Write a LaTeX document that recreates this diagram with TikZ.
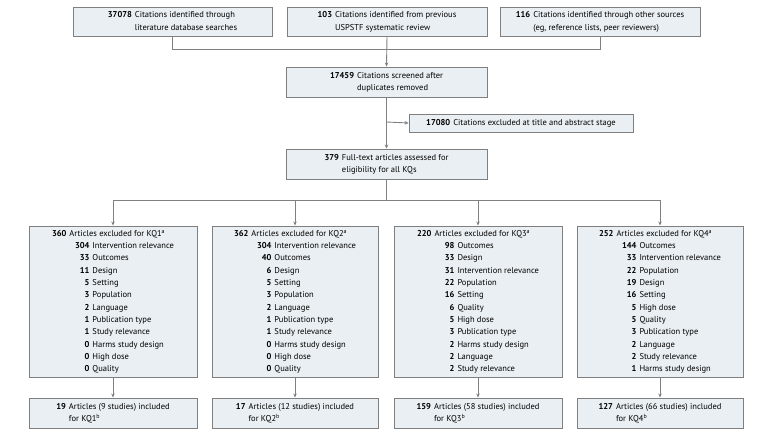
\documentclass[tikz,border=0pt]{standalone}
\usepackage{fontspec}
\setmainfont{PT Sans}
\usetikzlibrary{arrows.meta}
\definecolor{boxfill}{HTML}{E9EFF3}
\definecolor{boxline}{HTML}{7F7F7F}
\definecolor{arrline}{HTML}{808080}
\newcommand{\sub}[2]{& \makebox[20pt][r]{\textbf{#1}}\hspace{3pt}#2\\}
\begin{document}
\begin{tikzpicture}[x=1pt,y=-1pt,
  box/.style={draw=boxline, fill=boxfill, line width=0.9pt, inner sep=0pt, align=left,
    font=\fontsize{8.5}{12.3}\selectfont},
  conn/.style={draw=arrline, line width=0.9pt},
  arr/.style={conn, -{Stealth[length=4pt,width=3.5pt]}}]
\useasboundingbox (0,0) rectangle (758,437);
\node[box, minimum width=199pt, minimum height=29pt] (s1) at (172.5,21.5)
  {\begin{tabular}{@{}r@{\hspace{3pt}}l@{}}\textbf{37078} & Citations identified through\\ & literature database searches\end{tabular}};
\node[box, minimum width=200pt, minimum height=29pt] (s2) at (387,21.5)
  {\begin{tabular}{@{}r@{\hspace{3pt}}l@{}}\textbf{103} & Citations identified from previous\\ & USPSTF systematic review\end{tabular}};
\node[box, minimum width=200pt, minimum height=29pt] (s3) at (600,21.5)
  {\begin{tabular}{@{}r@{\hspace{3pt}}l@{}}\textbf{116} & Citations identified through other sources\\ & (eg, reference lists, peer reviewers)\end{tabular}};
\node[box, minimum width=201pt, minimum height=30pt] (scr) at (386.5,82)
  {\begin{tabular}{@{}r@{\hspace{3pt}}l@{}}\textbf{17459} & Citations screened after\\ & duplicates removed\end{tabular}};
\node[box, minimum width=224pt, minimum height=18pt] (exc) at (521,123)
  {\textbf{17080}\hspace{3pt}Citations excluded at title and abstract stage};
\node[box, minimum width=201pt, minimum height=30pt] (full) at (386.5,164)
  {\begin{tabular}{@{}r@{\hspace{3pt}}l@{}}\textbf{379} & Full-text articles assessed for\\ & eligibility for all KQs\end{tabular}};
% KQ exclusion boxes
\node[box, minimum width=168pt, minimum height=151pt] (k1) at (113,301.5)
  {\begin{tabular}{@{}r@{\hspace{3pt}}l@{}}\textbf{360} & Articles excluded for KQ1\textsuperscript{a}\\
  \sub{304}{Intervention relevance}\sub{33}{Outcomes}\sub{11}{Design}\sub{5}{Setting}
  \sub{3}{Population}\sub{2}{Language}\sub{1}{Publication type}\sub{1}{Study relevance}
  \sub{0}{Harms study design}\sub{0}{High dose}\sub{0}{Quality}\end{tabular}};
\node[box, minimum width=166pt, minimum height=151pt] (k2) at (295,301.5)
  {\begin{tabular}{@{}r@{\hspace{3pt}}l@{}}\textbf{362} & Articles excluded for KQ2\textsuperscript{a}\\
  \sub{304}{Intervention relevance}\sub{40}{Outcomes}\sub{6}{Design}\sub{5}{Setting}
  \sub{3}{Population}\sub{2}{Language}\sub{1}{Publication type}\sub{1}{Study relevance}
  \sub{0}{Harms study design}\sub{0}{High dose}\sub{0}{Quality}\end{tabular}};
\node[box, minimum width=168pt, minimum height=151pt] (k3) at (478,301.5)
  {\begin{tabular}{@{}r@{\hspace{3pt}}l@{}}\textbf{220} & Articles excluded for KQ3\textsuperscript{a}\\
  \sub{98}{Outcomes}\sub{33}{Design}\sub{31}{Intervention relevance}\sub{22}{Population}
  \sub{16}{Setting}\sub{6}{Quality}\sub{5}{High dose}\sub{3}{Publication type}
  \sub{2}{Harms study design}\sub{2}{Language}\sub{2}{Study relevance}\end{tabular}};
\node[box, minimum width=166pt, minimum height=151pt] (k4) at (660,301.5)
  {\begin{tabular}{@{}r@{\hspace{3pt}}l@{}}\textbf{252} & Articles excluded for KQ4\textsuperscript{a}\\
  \sub{144}{Outcomes}\sub{33}{Intervention relevance}\sub{22}{Population}\sub{19}{Design}
  \sub{16}{Setting}\sub{5}{High dose}\sub{5}{Quality}\sub{3}{Publication type}
  \sub{2}{Language}\sub{2}{Study relevance}\sub{1}{Harms study design}\end{tabular}};
% included boxes
\node[box, minimum width=168pt, minimum height=30pt] (i1) at (113,413)
  {\begin{tabular}{@{}r@{\hspace{3pt}}l@{}}\textbf{19} & Articles (9 studies) included\\ \multicolumn{2}{@{}l@{}}{\phantom{\textbf{19}}\hspace{3pt}for KQ1\textsuperscript{b}}\end{tabular}};
\node[box, minimum width=166pt, minimum height=30pt] (i2) at (295,413)
  {\begin{tabular}{@{}r@{\hspace{3pt}}l@{}}\textbf{17} & Articles (12 studies) included\\ & for KQ2\textsuperscript{b}\end{tabular}};
\node[box, minimum width=168pt, minimum height=30pt] (i3) at (478,413)
  {\begin{tabular}{@{}r@{\hspace{3pt}}l@{}}\textbf{159} & Articles (58 studies) included\\ & for KQ3\textsuperscript{b}\end{tabular}};
\node[box, minimum width=166pt, minimum height=30pt] (i4) at (660,413)
  {\begin{tabular}{@{}r@{\hspace{3pt}}l@{}}\textbf{127} & Articles (66 studies) included\\ & for KQ4\textsuperscript{b}\end{tabular}};
% connectors
\coordinate (m1) at (172.5,49);
\coordinate (m3) at (600,49);
\coordinate (ex) at (386.5,122);
\coordinate (br) at (386.5,200);
\coordinate (b1) at (113,200);
\coordinate (b2) at (295,200);
\coordinate (b3) at (478,200);
\coordinate (b4) at (660,200);
\draw[conn] (s1.south) -- (m1) -- (m3) -- (s3.south);
\draw[arr] (s2.south) -- (scr.north);
\draw[arr] (scr.south) -- (full.north);
\draw[arr] (ex) -- (exc.west);
\draw[conn] (full.south) -- (br);
\draw[conn] (b1) -- (b4);
\draw[arr] (b1) -- (k1.north);
\draw[arr] (b2) -- (k2.north);
\draw[arr] (b3) -- (k3.north);
\draw[arr] (b4) -- (k4.north);
\draw[arr] (k1.south) -- (i1.north);
\draw[arr] (k2.south) -- (i2.north);
\draw[arr] (k3.south) -- (i3.north);
\draw[arr] (k4.south) -- (i4.north);
\end{tikzpicture}
\end{document}
